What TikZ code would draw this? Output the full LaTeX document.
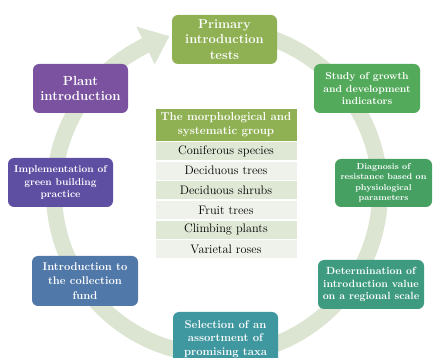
\documentclass[tikz,border=0pt]{standalone}
\usetikzlibrary{positioning}
\definecolor{bandc}{HTML}{DCE5D2}
\definecolor{olivec}{HTML}{8FB153}
\definecolor{purplec}{HTML}{7A52A0}
\definecolor{indigoc}{HTML}{5E4FA2}
\definecolor{steelc}{HTML}{5078A8}
\definecolor{tealc}{HTML}{3F97A0}
\definecolor{seac}{HTML}{3F9B7F}
\definecolor{greenc}{HTML}{45A062}
\definecolor{leafc}{HTML}{52AA5A}
\definecolor{rowdark}{HTML}{DFE7D5}
\definecolor{rowlight}{HTML}{EEF2EA}
\newcommand{\fs}[2]{\fontsize{#1}{#2}\selectfont}
\tikzset{
  box/.style={rounded corners=6pt, align=center, text=white, font=\bfseries,
    inner sep=0pt, minimum width=105pt, minimum height=49pt},
  thead/.style={fill=olivec, draw=white, line width=0.6pt, align=center, text=white,
    font=\bfseries\fs{11.5}{14.5}, inner sep=0pt, minimum width=142pt, minimum height=33pt},
  trow/.style={draw=white, line width=0.6pt, align=center, text=black,
    font=\fs{12.3}{14}, inner sep=0pt, minimum width=142pt, minimum height=19pt}
}
\begin{document}
\begin{tikzpicture}[x=1pt,y=-1pt]
\useasboundingbox (0,0) rectangle (434,358);
\clip (0,0) rectangle (434,358);
% circular arrow band
\begin{scope}[shift={(217,192)}, yscale=-1]
\fill[bandc] (80:171) arc[start angle=80, end angle=-244, radius=171]
  -- (-244:184) -- (-253:163) -- (-244:142) -- (-244:155)
  arc[start angle=-244, end angle=80, radius=155] -- cycle;
\end{scope}
% boxes
\node[box, fill=olivec, font=\bfseries\fs{12.9}{15.5}] (primary) at (224.5,39.5) {Primary\\introduction\\tests};
\node[box, fill=purplec, minimum width=95pt, font=\bfseries\fs{13.2}{15.5}] (plant) at (80.5,88.5) {Plant\\introduction};
\node[box, fill=leafc, minimum width=106pt, font=\bfseries\fs{10.2}{12.5}] (study) at (367,88.5) {Study of growth\\and development\\indicators};
\node[box, fill=indigoc, font=\bfseries\fs{10}{12.5}] (impl) at (60.5,182.5) {Implementation of\\green building\\practice};
\node[box, fill=greenc, minimum width=97pt, minimum height=48pt, font=\bfseries\fs{8.6}{10.5}] (diag) at (383.5,183) {Diagnosis of\\resistance based on\\physiological\\parameters};
\node[box, fill=steelc, minimum width=106pt, minimum height=50pt, font=\bfseries\fs{11.2}{14.5}] (fund) at (85,281) {Introduction to\\the collection\\fund};
\node[box, fill=seac, minimum width=106pt, font=\bfseries\fs{10.4}{12.5}] (determ) at (371,284.5) {Determination of\\introduction value\\on a regional scale};
\node[box, fill=tealc, minimum height=54pt, font=\bfseries\fs{11.3}{13.7}] (select) at (225.5,339) {Selection of an\\assortment of\\promising taxa};
% table
\node[thead] (th) at (226,124.5) {The morphological and\\systematic group};
\node[trow, fill=rowdark, below=0pt of th] (r1) {Coniferous species};
\node[trow, fill=rowlight, below=0pt of r1] (r2) {Deciduous trees};
\node[trow, fill=rowdark, below=0pt of r2] (r3) {Deciduous shrubs};
\node[trow, fill=rowlight, below=0pt of r3] (r4) {Fruit trees};
\node[trow, fill=rowdark, below=0pt of r4] (r5) {Climbing plants};
\node[trow, fill=rowlight, below=0pt of r5] (r6) {Varietal roses};
\end{tikzpicture}
\end{document}
